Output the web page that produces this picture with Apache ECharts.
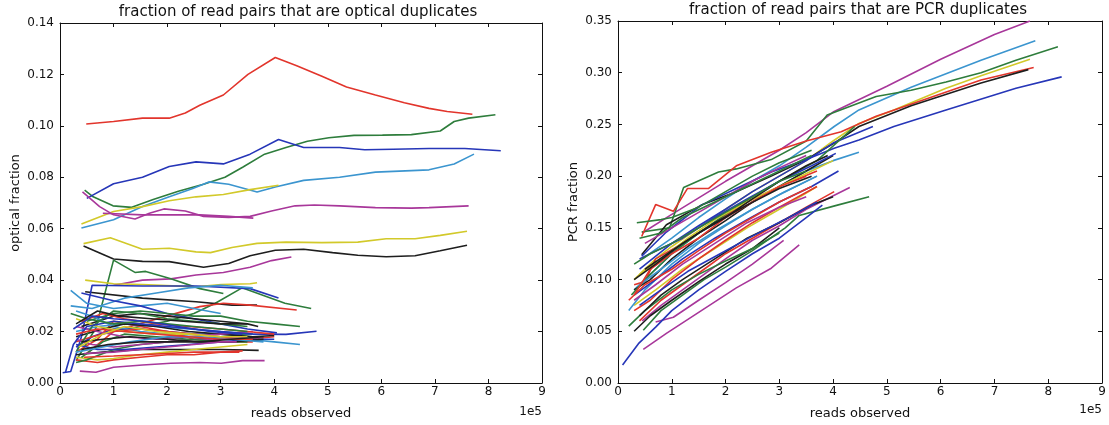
<!DOCTYPE html>
<html lang="en">
<head>
  <meta charset="UTF-8">
  <title>duplicates</title>
  <style>
    html, body { width: 100%; height: 100%; padding: 0; margin: 0; background: #fff; }
    #eChart { width: 1109px; height: 425px; }
  </style>
</head>
<body>
  <div id="eChart"></div>
  <script src="https://cdn.jsdelivr.net/npm/echarts@6/dist/echarts.min.js"></script>
  <script>
    // x values in units of 1e5 reads
    var xTicks = [0, 1, 2, 3, 4, 5, 6, 7, 8, 9];
    var opticalTicks = [0, 0.02, 0.04, 0.06, 0.08, 0.10, 0.12, 0.14];
    var pcrTicks = [0, 0.05, 0.10, 0.15, 0.20, 0.25, 0.30, 0.35];

    var opticalLines = [
      [[0.49,0.1007],[1.0,0.1017],[1.54,0.103],[2.04,0.103],[2.34,0.105],[2.61,0.108],[3.05,0.112],[3.51,0.120],[4.02,0.1266],[4.42,0.1234],[4.89,0.1193],[5.35,0.1151],[5.89,0.112],[6.43,0.109],[6.89,0.1068],[7.23,0.1056],[7.70,0.1045]],
      [[0.46,0.075],[0.62,0.0724],[0.99,0.0689],[1.34,0.0683],[1.74,0.0714],[2.21,0.0746],[2.68,0.0773],[3.08,0.080],[3.41,0.0839],[3.82,0.089],[4.22,0.0916],[4.62,0.094],[5.02,0.0954],[5.49,0.0963],[6.02,0.0964],[6.56,0.0966],[7.1,0.098],[7.36,0.1017],[7.63,0.103],[8.13,0.1043]],
      [[0.5,0.0718],[1.0,0.0775],[1.54,0.080],[2.04,0.0842],[2.54,0.086],[3.05,0.0852],[3.55,0.089],[4.08,0.0947],[4.55,0.0916],[5.22,0.0916],[5.69,0.0907],[6.22,0.0909],[6.89,0.0912],[7.56,0.0912],[8.23,0.0903]],
      [[0.4,0.0603],[1.0,0.0635],[1.54,0.0686],[2.04,0.0724],[2.48,0.0756],[2.78,0.0782],[3.15,0.0773],[3.68,0.0743],[4.02,0.0762],[4.55,0.0788],[5.22,0.080],[5.89,0.082],[6.56,0.0826],[6.89,0.0829],[7.36,0.0852],[7.73,0.089]],
      [[0.4,0.0618],[1.0,0.0667],[1.54,0.0686],[2.04,0.0709],[2.54,0.0724],[3.05,0.0733],[3.55,0.0752],[4.08,0.0769]],
      [[0.42,0.0743],[0.74,0.0686],[1.0,0.0654],[1.4,0.0638],[1.67,0.066],[1.94,0.0677],[2.34,0.0669],[2.68,0.0648],[3.15,0.0644],[3.55,0.0648],[3.95,0.0669],[4.39,0.0689],[4.75,0.0692],[5.22,0.0689],[5.89,0.0682],[6.56,0.068],[6.89,0.0682],[7.63,0.0689]],
      [[0.8,0.066],[1.54,0.0654],[2.07,0.0654],[2.61,0.0654],[3.15,0.0648],[3.61,0.0641]],
      [[0.44,0.0542],[0.94,0.0565],[1.54,0.052],[2.04,0.0524],[2.54,0.051],[2.81,0.0507],[3.21,0.0527],[3.68,0.0543],[4.22,0.0548],[4.89,0.0546],[5.56,0.0548],[6.09,0.0561],[6.63,0.0561],[7.1,0.0574],[7.6,0.059]],
      [[0.44,0.0533],[1.0,0.0482],[1.54,0.0473],[2.04,0.0472],[2.68,0.045],[3.15,0.0465],[3.55,0.0495],[4.02,0.0516],[4.55,0.052],[5.09,0.0507],[5.56,0.0497],[6.09,0.0491],[6.63,0.0495],[7.1,0.0514],[7.6,0.0536]],
      [[1.0,0.038],[1.54,0.040],[2.07,0.0405],[2.54,0.042],[3.05,0.043],[3.55,0.045],[3.95,0.0476],[4.32,0.049]],
      [[0.3,0.0087],[0.67,0.0214],[1.0,0.0478],[1.4,0.043],[1.6,0.0434],[2.07,0.0405],[2.61,0.0367],[3.05,0.0348]],
      [[1.0,0.020],[1.5,0.022],[2.0,0.024],[2.5,0.027],[2.9,0.031],[3.4,0.037],[3.8,0.034],[4.2,0.031],[4.69,0.029]],
      [[0.47,0.040],[1.0,0.0386],[1.54,0.0383],[2.54,0.0374],[3.01,0.0383],[3.55,0.0386],[3.68,0.039]],
      [[0.47,0.0355],[1.54,0.033],[2.54,0.0316],[3.21,0.0303],[3.68,0.0303]],
      [[0.05,0.004],[0.2,0.0045],[0.4,0.018],[0.6,0.038],[1.54,0.0377],[2.54,0.0377],[3.55,0.0367],[4.08,0.0331]],
      [[0.47,0.011],[1.0,0.020],[1.54,0.0233],[2.07,0.0265],[2.61,0.0297],[3.05,0.031],[3.55,0.0303],[4.42,0.0284]],
      [[0.2,0.036],[0.5,0.031],[1.0,0.029],[1.5,0.030],[2.0,0.031],[2.5,0.029],[3.0,0.027]],
      [[0.2,0.030],[0.6,0.029],[1.2,0.033],[1.8,0.035],[2.4,0.037],[3.0,0.038],[3.6,0.037]],
      [[0.4,0.035],[1.0,0.032],[1.5,0.030],[2.0,0.027],[2.5,0.025],[3.0,0.023],[3.5,0.021],[4.05,0.0195]],
      [[0.5,0.024],[1.0,0.027],[1.5,0.028],[2.0,0.027],[2.5,0.026],[3.0,0.026],[3.5,0.024],[4.0,0.023],[4.48,0.022]],
      [[0.4,0.022],[1.0,0.026],[1.5,0.027],[2.0,0.026],[2.5,0.025],[3.0,0.024],[3.5,0.023],[3.7,0.022]],
      [[0.3,0.014],[0.6,0.018],[1.0,0.021],[1.5,0.021],[2.0,0.020],[2.5,0.019],[3.0,0.019],[3.5,0.019],[4.22,0.0189],[4.79,0.0201]],
      [[0.3,0.028],[0.6,0.026],[1.0,0.022],[1.5,0.020],[2.0,0.019],[2.5,0.018],[3.0,0.017],[3.5,0.017],[4.0,0.016],[4.48,0.015]],
      [[0.3,0.011],[0.8,0.012],[1.5,0.013],[2.0,0.013],[2.5,0.013],[3.0,0.013],[3.71,0.0127]],
      [[0.3,0.009],[0.7,0.008],[1.0,0.009],[1.5,0.010],[2.0,0.011],[2.5,0.011],[3.0,0.012],[3.41,0.0125]],
      [[0.37,0.0046],[0.67,0.0042],[1.0,0.0061],[1.54,0.007],[2.07,0.0077],[2.61,0.008],[3.01,0.0077],[3.41,0.0087],[3.82,0.0087]],
      [[0.3,0.010],[0.7,0.009],[1.0,0.0095],[1.5,0.011],[2.0,0.012],[2.5,0.013],[3.0,0.014],[3.5,0.015]],
      [[0.3,0.008],[0.5,0.009],[1.0,0.013],[1.5,0.015],[2.0,0.016],[2.5,0.017],[3.0,0.018],[3.6,0.019]],
      [[0.3,0.016],[0.6,0.018],[1.0,0.020],[1.5,0.021],[2.0,0.020],[2.5,0.019],[3.0,0.018],[3.5,0.017],[4.0,0.018]],
      [[0.3,0.012],[0.7,0.017],[1.0,0.024],[1.5,0.022],[2.0,0.020],[2.5,0.017],[3.0,0.016],[3.6,0.016]],
      [[0.3,0.017],[0.6,0.015],[1.0,0.014],[1.5,0.015],[2.0,0.016],[2.5,0.017],[3.0,0.017],[3.5,0.018]],
      [[0.3,0.020],[0.7,0.022],[1.2,0.023],[1.8,0.022],[2.4,0.021],[3.0,0.020],[3.6,0.019]],
      [[0.3,0.018],[0.8,0.021],[1.2,0.023],[1.8,0.022],[2.4,0.020],[3.0,0.019],[3.6,0.018],[4.0,0.0185]],
      [[0.4,0.010],[0.8,0.016],[1.2,0.019],[1.8,0.018],[2.4,0.017],[3.0,0.016],[3.5,0.016]],
      [[0.3,0.015],[0.7,0.013],[1.2,0.013],[1.8,0.014],[2.4,0.015],[3.0,0.016],[3.6,0.017],[4.0,0.017]],
      [[0.3,0.025],[0.7,0.022],[1.2,0.020],[1.8,0.019],[2.4,0.019],[3.0,0.018],[3.5,0.018]],
      [[0.3,0.022],[0.7,0.020],[1.2,0.018],[1.8,0.017],[2.4,0.018],[3.0,0.019],[3.6,0.020]],
      [[0.4,0.024],[0.8,0.027],[1.2,0.025],[1.8,0.023],[2.4,0.022],[3.0,0.021],[3.5,0.020],[4.0,0.019]],
      [[0.3,0.012],[0.6,0.022],[1.0,0.028],[1.5,0.027],[2.0,0.025],[2.5,0.024],[3.0,0.023],[3.5,0.022]],
      [[0.4,0.016],[0.8,0.017],[1.3,0.018],[2.0,0.017],[2.6,0.016],[3.2,0.016],[3.8,0.017]],
      [[0.1,0.004],[0.25,0.015],[0.5,0.022],[1.0,0.024],[1.5,0.023],[2.0,0.022],[2.5,0.021],[3.0,0.020],[3.6,0.019]],
      [[0.3,0.012],[0.8,0.014],[1.3,0.016],[2.0,0.018],[2.6,0.018],[3.2,0.017],[3.8,0.016]],
      [[0.45,0.0115],[1.0,0.012],[1.5,0.013],[2.0,0.014],[2.5,0.015],[3.0,0.016],[3.3,0.016]],
      [[0.45,0.010],[1.0,0.0105],[1.5,0.011],[2.0,0.0115],[2.5,0.012],[3.0,0.012],[3.35,0.012]],
      [[0.2,0.027],[0.5,0.025],[1.0,0.023],[1.5,0.024],[2.0,0.023],[2.5,0.022],[3.0,0.021],[3.5,0.020]],
      [[0.3,0.019],[0.7,0.021],[1.2,0.020],[1.8,0.019],[2.4,0.018],[3.0,0.017],[3.6,0.017]],
      [[0.4,0.013],[0.9,0.015],[1.5,0.016],[2.0,0.016],[2.6,0.016],[3.2,0.017],[3.8,0.018]],
      [[0.25,0.021],[0.6,0.026],[1.0,0.025],[1.6,0.024],[2.2,0.022],[2.8,0.020],[3.4,0.019]],
      [[0.3,0.023],[0.7,0.028],[1.1,0.026],[1.7,0.025],[2.3,0.024],[3.0,0.023],[3.5,0.023]],
      [[0.35,0.014],[0.8,0.019],[1.2,0.022],[1.8,0.020],[2.4,0.019],[3.0,0.018]]
    ];
    var opticalColorKeys = 'rgbcymmykmggykbrccbgkbckrmygrrmckgbymrgkbcmrgrkbky';

    var pcrLines = [
      [[0.45,0.145],[1.0,0.163],[1.5,0.179],[2.0,0.195],[2.5,0.21],[3.0,0.225],[3.5,0.242],[4.0,0.262],[5.0,0.287],[6.0,0.313],[7.0,0.337],[7.66,0.35]],
      [[0.45,0.12],[1.0,0.14],[1.5,0.16],[2.0,0.178],[2.5,0.195],[3.0,0.21],[3.5,0.228],[4.02,0.248],[4.48,0.264],[5.45,0.286],[6.75,0.312],[7.76,0.331]],
      [[0.44,0.146],[0.96,0.15],[1.22,0.189],[1.87,0.204],[2.2,0.207],[2.85,0.216],[3.5,0.234],[3.89,0.259],[4.8,0.277],[5.45,0.283],[6.1,0.291],[6.75,0.30],[7.4,0.312],[8.18,0.325]],
      [[0.3,0.10],[0.7,0.12],[1.0,0.132],[1.5,0.15],[2.0,0.168],[2.5,0.185],[3.0,0.20],[3.5,0.215],[4.0,0.234],[4.48,0.251],[5.13,0.264],[6.1,0.285],[6.75,0.297],[7.66,0.313]],
      [[0.44,0.1416],[0.7,0.1725],[1.03,0.166],[1.29,0.188],[1.68,0.188],[2.2,0.21],[2.85,0.223],[3.5,0.234],[4.15,0.243],[4.8,0.258],[6.75,0.293],[7.73,0.305]],
      [[0.44,0.124],[0.9,0.153],[1.55,0.172],[2.2,0.185],[2.85,0.2],[3.5,0.216],[4.02,0.232],[4.48,0.248],[5.45,0.268],[6.75,0.29],[7.63,0.303]],
      [[0.44,0.1225],[0.9,0.146],[1.55,0.172],[2.2,0.188],[2.85,0.204],[3.5,0.216],[4.02,0.227],[4.48,0.235],[5.13,0.248],[6.1,0.264],[7.4,0.285],[8.25,0.296]],
      [[0.4,0.11],[1.0,0.135],[1.5,0.152],[2.0,0.168],[2.5,0.185],[3.0,0.2],[3.5,0.215],[4.0,0.232],[4.74,0.248]],
      [[0.3,0.09],[0.7,0.11],[1.0,0.125],[1.5,0.145],[2.0,0.16],[2.5,0.175],[3.0,0.19],[3.5,0.205],[4.0,0.215],[4.48,0.223]],
      [[0.47,0.051],[0.8,0.07],[1.2,0.085],[1.6,0.1],[2.0,0.112],[2.5,0.128],[3.11,0.15],[3.37,0.162],[4.08,0.172],[4.67,0.18]],
      [[0.45,0.06],[0.8,0.075],[1.2,0.09],[1.6,0.105],[2.0,0.12],[2.5,0.138],[3.0,0.152],[3.5,0.168],[4.31,0.189]],
      [[0.4,0.06],[0.8,0.08],[1.2,0.095],[1.6,0.11],[2.0,0.125],[2.5,0.14],[3.0,0.155],[3.5,0.17],[4.02,0.185]],
      [[0.47,0.0325],[0.9,0.048],[1.55,0.07],[2.2,0.092],[2.85,0.111],[3.37,0.1336]],
      [[0.7,0.059],[1.03,0.0636],[1.5,0.08],[2.0,0.097],[2.5,0.115],[3.08,0.138]],
      [[0.085,0.0175],[0.38,0.038],[0.7,0.054],[1.0,0.07],[1.5,0.09],[2.0,0.108],[2.5,0.125],[3.0,0.14],[3.5,0.16],[3.8,0.172]],
      [[0.3,0.05],[0.6,0.065],[1.0,0.08],[1.5,0.098],[2.0,0.115],[2.5,0.13],[3.0,0.15]],
      [[0.2,0.055],[0.5,0.07],[1.0,0.09],[1.5,0.105],[2.0,0.118],[2.5,0.13],[3.0,0.145]],
      [[0.3,0.075],[0.7,0.09],[1.2,0.11],[1.8,0.13],[2.4,0.15],[3.0,0.168],[3.7,0.19]],
      [[0.3,0.095],[0.5,0.098],[0.7,0.12],[1.2,0.135],[1.8,0.155],[2.4,0.175],[3.0,0.19],[3.7,0.205]],
      [[0.3,0.09],[0.6,0.1],[1.0,0.12],[1.5,0.14],[2.0,0.157],[2.5,0.175],[3.0,0.19],[3.5,0.205],[4.0,0.22]],
      [[0.2,0.07],[0.5,0.09],[1.0,0.115],[1.5,0.135],[2.0,0.152],[2.5,0.168],[3.0,0.182],[3.7,0.2]],
      [[0.25,0.085],[0.6,0.105],[1.0,0.125],[1.5,0.145],[2.0,0.163],[2.5,0.18],[3.0,0.195],[3.7,0.215],[4.4,0.248]],
      [[0.3,0.085],[0.7,0.1],[1.2,0.12],[1.8,0.14],[2.4,0.158],[3.0,0.175],[3.6,0.19],[4.1,0.205]],
      [[0.5,0.135],[1.0,0.15],[1.5,0.165],[2.0,0.18],[2.5,0.195],[3.0,0.208],[3.5,0.22]],
      [[0.3,0.07],[0.6,0.08],[1.0,0.1],[1.5,0.12],[2.0,0.138],[2.5,0.155],[3.0,0.17],[3.7,0.19]],
      [[0.4,0.105],[0.8,0.12],[1.3,0.14],[1.8,0.158],[2.4,0.175],[3.0,0.19],[3.6,0.205],[4.0,0.215]],
      [[0.4,0.065],[0.8,0.085],[1.2,0.1],[1.8,0.12],[2.4,0.14],[3.0,0.155],[3.6,0.172],[4.0,0.18]],
      [[0.35,0.155],[0.8,0.158],[1.0,0.16],[1.5,0.17],[2.0,0.185],[2.5,0.2],[3.0,0.213],[3.6,0.225]],
      [[0.4,0.12],[0.8,0.13],[1.2,0.14],[1.8,0.16],[2.4,0.178],[3.0,0.195],[3.6,0.21],[4.05,0.222]],
      [[0.4,0.095],[0.8,0.11],[1.3,0.13],[1.9,0.15],[2.5,0.168],[3.1,0.185],[3.7,0.2]],
      [[0.3,0.085],[0.6,0.11],[1.0,0.125],[1.5,0.14],[2.0,0.16],[2.5,0.175],[3.0,0.19],[3.5,0.2]],
      [[0.5,0.11],[1.0,0.128],[1.5,0.145],[2.0,0.16],[2.5,0.178],[3.0,0.195],[3.5,0.21],[3.9,0.22]],
      [[0.3,0.08],[0.7,0.095],[1.2,0.115],[1.8,0.135],[2.4,0.155],[3.0,0.17],[3.5,0.18]],
      [[0.4,0.14],[0.8,0.145],[1.2,0.16],[1.8,0.175],[2.4,0.19],[3.0,0.205],[3.6,0.22]],
      [[0.3,0.1],[0.7,0.115],[1.2,0.135],[1.8,0.155],[2.4,0.172],[3.0,0.188],[3.6,0.2]],
      [[0.3,0.115],[0.6,0.125],[1.0,0.135],[1.5,0.15],[2.0,0.165],[2.5,0.18],[3.0,0.195],[3.5,0.205]],
      [[0.4,0.075],[0.8,0.09],[1.3,0.108],[1.9,0.125],[2.5,0.142],[3.1,0.158],[3.7,0.175]],
      [[0.2,0.08],[0.5,0.095],[1.0,0.11],[1.5,0.128],[2.0,0.145],[2.5,0.16],[3.0,0.175],[3.6,0.19]]
    ];
    var pcrColorKeys = 'mcgyrkbbcgmrmmbkgyrkcgbmrykgbcrkmgkgbr';

    var palette = {
      b: '#2636b8', g: '#2e7d3c', r: '#e2352c', c: '#3b95cf',
      m: '#a8379a', y: '#d2c92a', k: '#1e1e1e'
    };
    var font = 'DejaVu Sans';
    var textColor = '#111';

    function axisPair(gridIndex, min, max, interval, fmt, isX) {
      var base = {
        gridIndex: gridIndex, type: 'value', min: min, max: max, interval: interval,
        splitLine: { show: false },
        axisLine: { show: true, onZero: false, lineStyle: { color: '#111', width: 1 } },
        axisTick: { show: true, inside: true, length: 4, lineStyle: { color: '#111' } }
      };
      var main = Object.assign({}, base, {
        position: isX ? 'bottom' : 'left',
        axisLabel: { fontFamily: font, fontSize: 12, color: textColor, margin: isX ? 3 : 6, formatter: fmt }
      });
      var other = Object.assign({}, base, {
        position: isX ? 'top' : 'right',
        axisLabel: { show: false }
      });
      return [main, other];
    }

    var xFmt = function (v) { return String(v); };
    var xs = [].concat(
      axisPair(0, 0, 9, 1, xFmt, true),
      axisPair(1, 0, 9, 1, xFmt, true)
    );
    xs[0].name = 'reads observed';
    xs[2].name = 'reads observed';
    [xs[0], xs[2]].forEach(function (a) {
      a.nameLocation = 'middle';
      a.nameGap = 24;
      a.nameTextStyle = { fontFamily: font, fontSize: 13, color: textColor };
    });

    var ys = [].concat(
      axisPair(0, 0, 0.14, 0.02, function (v) { return v.toFixed(2); }, false),
      axisPair(1, 0, 0.35, 0.05, function (v) { return v.toFixed(2); }, false)
    );
    ys[0].name = 'optical fraction';
    ys[2].name = 'PCR fraction';
    [ys[0], ys[2]].forEach(function (a) {
      a.nameLocation = 'middle';
      a.nameGap = 38;
      a.nameTextStyle = { fontFamily: font, fontSize: 13, color: textColor };
    });

    var series = [];
    opticalLines.forEach(function (pts, i) {
      series.push({
        type: 'line', xAxisIndex: 0, yAxisIndex: 0, data: pts,
        showSymbol: false, symbol: 'none', silent: true,
        lineStyle: { width: 1.6, color: palette[opticalColorKeys[i % opticalColorKeys.length]] }
      });
    });
    pcrLines.forEach(function (pts, i) {
      series.push({
        type: 'line', xAxisIndex: 2, yAxisIndex: 2, data: pts,
        showSymbol: false, symbol: 'none', silent: true,
        lineStyle: { width: 1.6, color: palette[pcrColorKeys[i % pcrColorKeys.length]] }
      });
    });

    var chart = echarts.init(document.getElementById('eChart'));
    chart.setOption({
      animation: false,
      backgroundColor: '#fff',
      grid: [
        { left: 60, top: 23, width: 482, height: 365 },
        { left: 618, top: 21, width: 484, height: 365 }
      ],
      xAxis: xs,
      yAxis: ys,
      series: series,
      graphic: [
        { type: 'text', x: 298, y: 12, style: { text: 'fraction of read pairs that are optical duplicates', font: '15px "DejaVu Sans"', fill: textColor, align: 'center', verticalAlign: 'middle' } },
        { type: 'text', x: 858, y: 10, style: { text: 'fraction of read pairs that are PCR duplicates', font: '15px "DejaVu Sans"', fill: textColor, align: 'center', verticalAlign: 'middle' } },
        { type: 'text', x: 542, y: 412, style: { text: '1e5', font: '12px "DejaVu Sans"', fill: textColor, align: 'right', verticalAlign: 'middle' } },
        { type: 'text', x: 1102, y: 410, style: { text: '1e5', font: '12px "DejaVu Sans"', fill: textColor, align: 'right', verticalAlign: 'middle' } }
      ]
    });
  </script>
</body>
</html>
